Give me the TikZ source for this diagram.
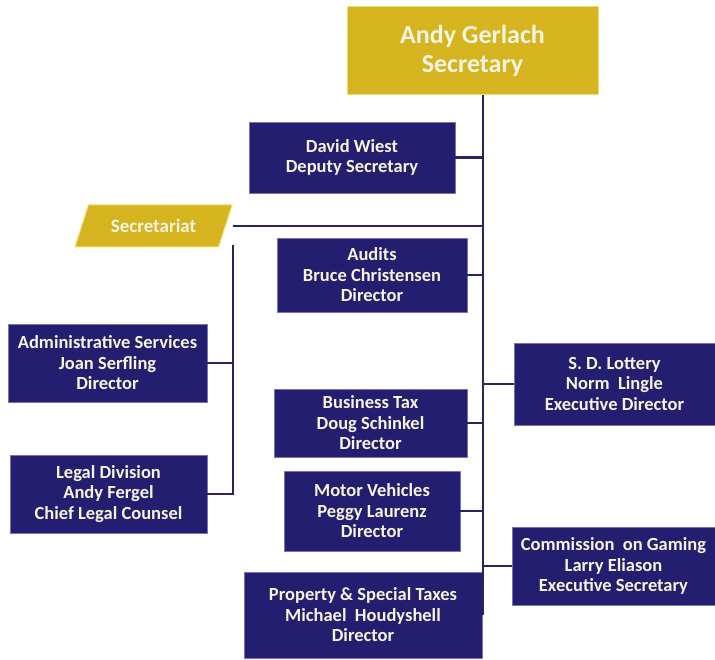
\documentclass[tikz,border=0pt]{standalone}
\usepackage{fontspec}
\setmainfont{Carlito}
\usetikzlibrary{shapes.geometric}
\definecolor{unitblue}{RGB}{36,30,112}
\definecolor{unitedge}{RGB}{120,115,185}
\definecolor{gold}{RGB}{214,180,32}
\definecolor{goldedge}{RGB}{240,222,110}
\definecolor{linkblue}{RGB}{40,36,100}
\definecolor{cream}{RGB}{246,244,226}

\tikzset{
  unit/.style={draw=unitedge,line width=0.8pt,fill=unitblue,text=cream,align=center,
    font=\fontsize{18.5}{20.5}\selectfont\bfseries,inner sep=1pt},
  head/.style={draw=goldedge,line width=1pt,fill=gold,text=cream,align=center,
    font=\fontsize{26}{29}\selectfont\bfseries},
  link/.style={linkblue,line width=2.4pt}
}

\begin{document}
\begin{tikzpicture}[x=1pt,y=-1pt]
  \useasboundingbox (0,0) rectangle (715,660);
  % head of the department
  \node[head,minimum width=251,minimum height=88] (sec) at (472.5,51) {Andy Gerlach\\Secretary};
  \coordinate (spine) at (483,0);
  % units on the right of the left column
  \node[unit,minimum width=206,minimum height=71] (deputy) at (352,157.5) {David Wiest\\Deputy Secretary};
  \node[trapezium,trapezium left angle=49,trapezium right angle=131,trapezium stretches body,
    fill=gold,draw=goldedge,line width=1pt,text=cream,font=\fontsize{19}{20}\selectfont\bfseries,
    minimum width=157,minimum height=42,inner sep=1pt] (secretariat) at (153.5,226) {Secretariat};
  \node[unit,minimum width=190,minimum height=74] (audits) at (372,275) {Audits\\Bruce Christensen\\Director};
  \node[unit,minimum width=199,minimum height=78] (admin) at (107.5,363) {Administrative Services\\Joan Serfling\\Director};
  \node[unit,minimum width=197,minimum height=78] (legal) at (108.5,494) {Legal Division\\Andy Fergel\\Chief Legal Counsel};
  \node[unit,minimum width=201,minimum height=82] (lottery) at (614.5,384) {S. D. Lottery\\Norm~~Lingle\\Executive Director};
  \node[unit,minimum width=193,minimum height=68] (bustax) at (370.5,423) {Business Tax\\Doug Schinkel\\Director};
  \node[unit,minimum width=176,minimum height=80] (motor) at (372,511) {Motor Vehicles\\Peggy Laurenz\\Director};
  \node[unit,minimum width=203,minimum height=78] (gaming) at (613.5,566) {Commission~~on Gaming\\Larry Eliason\\Executive Secretary};
  \node[unit,minimum width=238,minimum height=86] (property) at (363,615) {Property \& Special Taxes\\Michael~~Houdyshell\\Director};
  % connectors
  \draw[link] (sec.south -| spine) -- (property.east -| spine);
  \foreach \n in {deputy,audits,bustax,motor} \draw[link] (\n.east) -- (\n.east -| spine);
  \foreach \n in {lottery,gaming} \draw[link] (\n.west) -- (\n.west -| spine);
  \draw[link] (secretariat.top right corner |- secretariat.center) -- (secretariat.center -| spine);
  \coordinate (bus) at (233,245);
  \draw[link] (bus) -- (bus |- legal.east) -- (legal.east);
  \draw[link] (admin.east) -- (admin.east -| bus);
\end{tikzpicture}
\end{document}
